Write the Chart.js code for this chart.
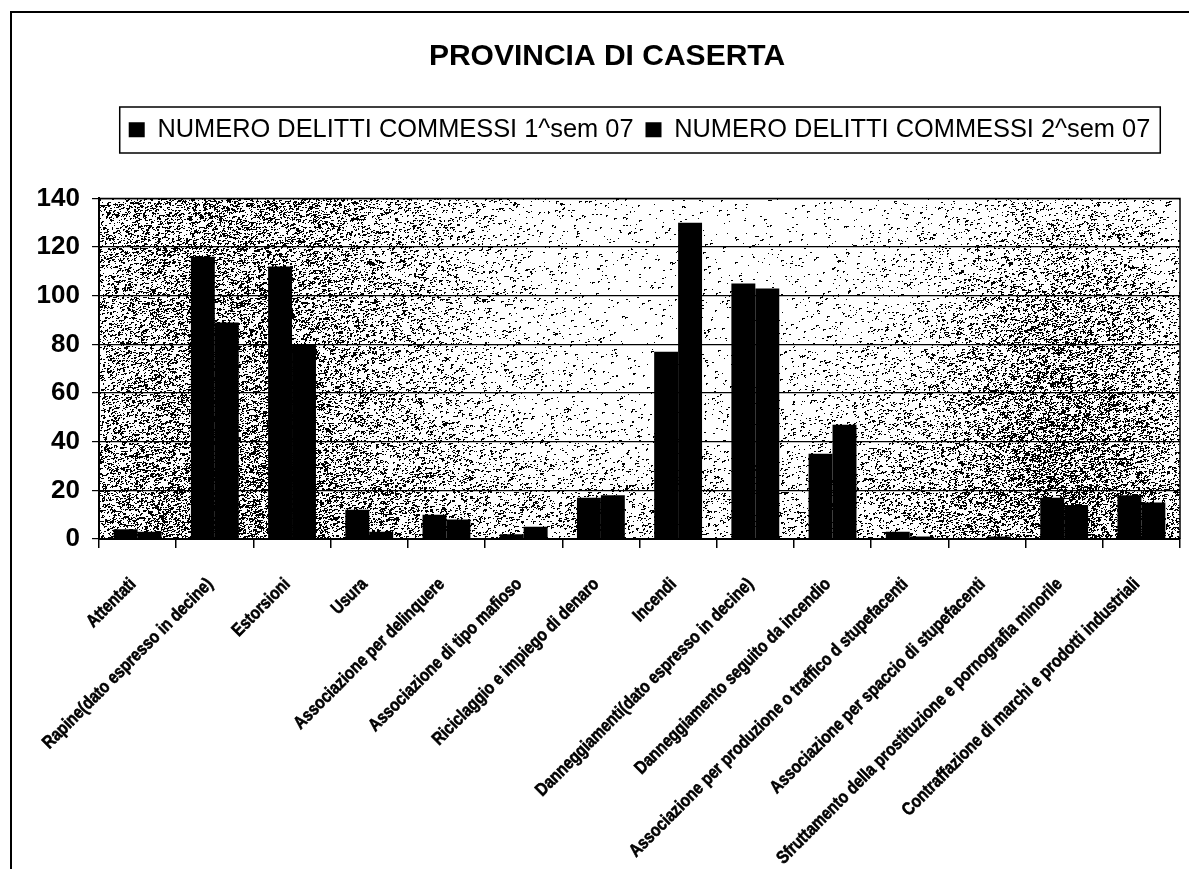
<!DOCTYPE html>
<html><head><meta charset="utf-8">
<style>html,body{margin:0;padding:0;background:#fff;} #wrap{width:1189px;height:869px;position:relative;}</style>
<script src="https://cdn.jsdelivr.net/npm/chart.js@4.4.0/dist/chart.umd.min.js"></script>
</head><body><div id="wrap"><canvas id="c" width="1189" height="869"></canvas></div>
<script>
const categories = [
  'Attentati',
  'Rapine(dato espresso in decine)',
  'Estorsioni',
  'Usura',
  'Associazione per delinquere',
  'Associazione di tipo mafioso',
  'Riciclaggio e impiego di denaro',
  'Incendi',
  'Danneggiamenti(dato espresso in decine)',
  'Danneggiamento seguito da incendio',
  'Associazione per produzione o traffico d stupefacenti',
  'Associazione per spaccio di stupefacenti',
  'Sfruttamento della prostituzione e pornografia minorile',
  'Contraffazione di marchi e prodotti industriali'
];
const series1Label = 'NUMERO DELITTI COMMESSI 1^sem 07';
const series2Label = 'NUMERO DELITTI COMMESSI 2^sem 07';
const series1 = [4, 116, 112, 12, 10, 2, 17, 77, 105, 35, 3, 0, 17, 18];
const series2 = [3, 89, 80, 3, 8, 5, 18, 130, 103, 47, 1, 1, 14, 15];
const yMin = 0, yMax = 140, yStep = 20;
const chartTitle = 'PROVINCIA DI CASERTA';

const SANS = "'Liberation Sans', Arial, 'DejaVu Sans', sans-serif";

function hash(x, y) {
  let h = Math.imul(x, 374761393) ^ Math.imul(y, 668265263);
  h = Math.imul(h ^ (h >>> 13), 1274126177);
  h = h ^ (h >>> 16);
  return (h >>> 0) / 4294967296;
}
function density(x, y) {
  let d = 0.012;
  d += 0.20 * Math.exp(-Math.pow((x - 240) / 200, 2));
  d += 0.24 * Math.exp(-Math.pow((x - 1070) / 110, 2) - Math.pow((y - 430) / 200, 2));
  d += 0.06 * Math.exp(-Math.pow((y - 515) / 70, 2));
  d += 0.05 * Math.exp(-Math.pow((x - 900) / 120, 2) - Math.pow((y - 420) / 130, 2));
  return d;
}

const speckle = {
  id: 'speckle',
  beforeDraw(chart) {
    const a = chart.chartArea, ctx = chart.ctx;
    const x0 = Math.round(a.left), y0 = Math.round(a.top);
    const w = Math.round(a.right) - x0, h = Math.round(a.bottom) - y0;
    const img = ctx.createImageData(w, h);
    const d = img.data;
    for (let i = 0; i < d.length; i += 4) { d[i] = d[i+1] = d[i+2] = 255; d[i+3] = 255; }
    for (let y = 0; y < h; y++) {
      for (let x = 0; x < w; x++) {
        const gx = x + x0, gy = y + y0;
        if (hash(gx, gy) < density(gx, gy)) {
          const r = hash(gy + 7, gx + 3);
          const len = r < 0.45 ? 1 : (r < 0.85 ? 2 : 3);
          for (let k = 0; k < len && x + k < w; k++) {
            const p = (y * w + x + k) * 4;
            d[p] = d[p+1] = d[p+2] = 0;
          }
          if (r > 0.7 && y + 1 < h) {
            const p = ((y + 1) * w + x) * 4;
            d[p] = d[p+1] = d[p+2] = 0;
          }
        }
      }
    }
    ctx.putImageData(img, x0, y0);
  }
};

const xLabels = {
  id: 'xLabels',
  afterDraw(chart) {
    const sx = chart.scales.x, ctx = chart.ctx, a = chart.chartArea;
    ctx.save();
    ctx.fillStyle = '#000';
    ctx.strokeStyle = '#000';
    ctx.lineWidth = 0.6;
    ctx.font = 'bold 18px ' + SANS;
    ctx.textAlign = 'right';
    ctx.textBaseline = 'alphabetic';
    chart.data.labels.forEach((lab, i) => {
      const x = sx.getPixelForTick(i);
      ctx.save();
      ctx.translate(x - 1, a.bottom + 46);
      ctx.rotate(-Math.PI / 4);
      ctx.scale(0.84, 1);
      ctx.fillText(lab, 0, 0);
      ctx.strokeText(lab, 0, 0);
      ctx.restore();
    });
    ctx.restore();
  }
};

const frame = {
  id: 'frame',
  beforeInit(chart) {
    const fit = chart.legend.fit;
    chart.legend.fit = function () { fit.bind(chart.legend)(); this.height += 46; };
  },
  afterLayout(chart) {
    const a = chart.chartArea;
    chart.legend.left = a.left; chart.legend.right = a.right;
    chart.titleBlock.left = 25; chart.titleBlock.right = 1189;
  },
  afterDraw(chart) {
    const ctx = chart.ctx, a = chart.chartArea;
    ctx.save();
    ctx.strokeStyle = '#000';
    ctx.lineWidth = 2;
    ctx.beginPath();
    ctx.moveTo(11, 869); ctx.lineTo(11, 12); ctx.lineTo(1189, 12);
    ctx.stroke();
    ctx.lineWidth = 1.5;
    ctx.beginPath();
    ctx.moveTo(a.left, a.top); ctx.lineTo(a.right, a.top); ctx.lineTo(a.right, a.bottom);
    ctx.stroke();
    const hb = chart.legend.legendHitBoxes;
    if (hb && hb.length) {
      const l = hb[0].left - 9, r = hb[hb.length-1].left + hb[hb.length-1].width + 10;
      ctx.lineWidth = 1.5;
      ctx.strokeRect(l, 107, r - l, 46);
    }
    ctx.restore();
  }
};

new Chart(document.getElementById('c'), {
  type: 'bar',
  data: {
    labels: categories,
    datasets: [
      { label: series1Label, data: series1, backgroundColor: '#000', borderColor: '#000', borderWidth: 0, categoryPercentage: 0.62, barPercentage: 1.0 },
      { label: series2Label, data: series2, backgroundColor: '#000', borderColor: '#000', borderWidth: 0, categoryPercentage: 0.62, barPercentage: 1.0 }
    ]
  },
  plugins: [speckle, xLabels, frame],
  options: {
    responsive: false, animation: false, devicePixelRatio: 1,
    layout: { padding: { left: 0, right: 9, top: 0, bottom: 0 } },
    plugins: {
      title: { display: true, text: chartTitle, color: '#000',
        font: { family: SANS, size: 30, weight: 'bold', lineHeight: 1.2 }, padding: { top: 39, bottom: 30 } },
      legend: { display: true, position: 'top',
        labels: { color: '#000', font: { family: SANS, size: 25.4 }, boxWidth: 16, boxHeight: 15, padding: 12 } },
      tooltip: { enabled: false }
    },
    scales: {
      x: {
        grid: { display: true, offset: true, drawOnChartArea: false, drawTicks: true, tickLength: 9, color: '#000', lineWidth: 1.5 },
        border: { display: true, color: '#000', width: 2 },
        ticks: { display: false, autoSkip: false },
        afterFit(s) { s.height = 330; }
      },
      y: {
        min: yMin, max: yMax,
        ticks: { stepSize: yStep, color: '#000', font: { family: SANS, size: 26, weight: 'bold' }, padding: 12 },
        grid: { color: '#000', lineWidth: 1.2, tickLength: 7, drawTicks: true },
        border: { display: true, color: '#000', width: 2 },
        afterFit(s) { s.width = 99; }
      }
    }
  }
});
</script></body></html>
